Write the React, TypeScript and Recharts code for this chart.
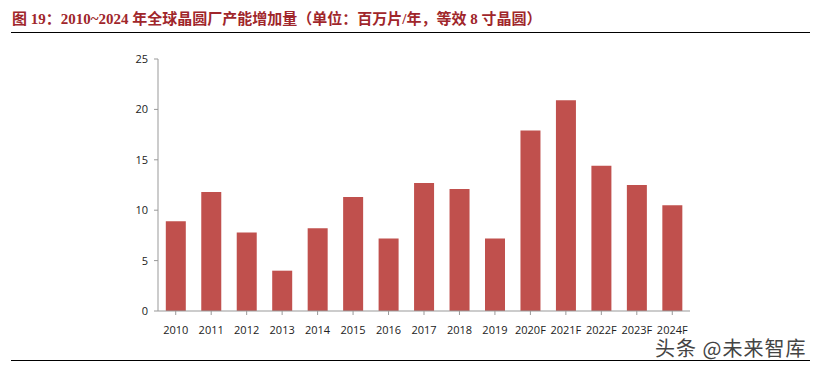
import React from "react";
import { BarChart, Bar, XAxis, YAxis } from "recharts";

const YEARS = [
  "2010", "2011", "2012", "2013", "2014", "2015", "2016", "2017",
  "2018", "2019", "2020F", "2021F", "2022F", "2023F", "2024F",
];
const CAPACITY_ADDED = [8.9, 11.8, 7.8, 4.0, 8.2, 11.3, 7.2, 12.7, 12.1, 7.2, 17.9, 20.9, 14.4, 12.5, 10.5];
const Y_TICKS = [0, 5, 10, 15, 20, 25];

const DATA = YEARS.map((year, i) => ({ year, value: CAPACITY_ADDED[i] }));

const tickFont = {
  fill: "#222",
  fontSize: 11,
  fontFamily: "'Open Sans', 'Noto Sans', sans-serif",
};

export default function App() {
  return (
    <div
      style={{
        position: "absolute",
        left: 0,
        top: 0,
        width: 824,
        height: 367,
        background: "#fff",
        overflow: "hidden",
      }}
    >
      <div
        style={{
          position: "absolute",
          left: 12,
          top: 7,
          fontFamily: "'Liberation Serif', 'Noto Sans CJK SC', serif",
          fontWeight: 700,
          fontSize: 15,
          color: "#a0262b",
          whiteSpace: "nowrap",
        }}
      >
        图 19：2010~2024 年全球晶圆厂产能增加量（单位：百万片/年，等效 8 寸晶圆）
      </div>
      <div style={{ position: "absolute", left: 11, top: 32, width: 799, height: 1, background: "#000" }} />
      <div style={{ position: "absolute", left: 11, top: 360, width: 799, height: 1, background: "#000" }} />
      <div style={{ position: "absolute", left: 0, top: 0 }}>
        <BarChart
          width={824}
          height={367}
          data={DATA}
          margin={{ top: 59, right: 134, left: 118, bottom: 22 }}
          barCategoryGap="22%"
        >
          <XAxis
            dataKey="year"
            interval={0}
            tick={tickFont}
            tickLine={{ stroke: "#999" }}
            axisLine={{ stroke: "#999" }}
            tickSize={4}
            tickMargin={11}
            height={34}
          />
          <YAxis
            width={40}
            domain={[0, 25]}
            ticks={Y_TICKS}
            tick={tickFont}
            tickLine={{ stroke: "#999" }}
            axisLine={{ stroke: "#999" }}
            tickSize={4}
            tickMargin={6}
          />
          <Bar dataKey="value" fill="#c0504d" isAnimationActive={false} />
        </BarChart>
      </div>
      <div
        style={{
          position: "absolute",
          left: 655,
          top: 333,
          fontFamily: "'Noto Sans CJK SC', sans-serif",
          fontSize: 20,
          letterSpacing: 1,
          color: "#444",
          whiteSpace: "nowrap",
        }}
      >
        头条 @未来智库
      </div>
    </div>
  );
}
